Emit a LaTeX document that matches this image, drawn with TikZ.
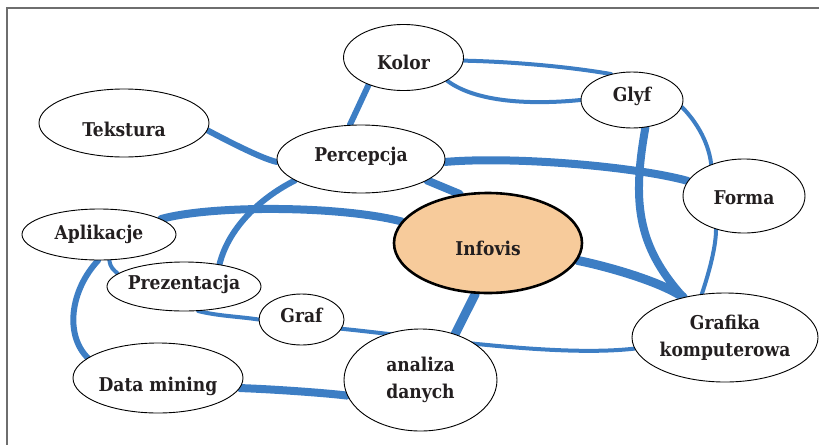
\documentclass[tikz,border=0pt]{standalone}
\usepackage{fontspec}
\setmainfont{DejaVu Serif Condensed}
\usetikzlibrary{shapes.geometric,backgrounds}
\definecolor{linkblue}{RGB}{61,126,196}
\definecolor{corefill}{RGB}{247,203,155}
\definecolor{inktext}{RGB}{35,31,32}
\definecolor{framegray}{RGB}{110,110,110}
\tikzset{
  topic/.style={ellipse, draw=black, line width=0.9pt, fill=white,
    inner ysep=0pt, inner xsep=-8pt,
    text=inktext, align=center,
    font=\bfseries\fontsize{19}{27}\selectfont},
  core/.style={topic, fill=corefill, line width=2.6pt},
  % vertical placement of a one-line label inside its ellipse
  lift/.style={text height=#1, text depth=0pt},
  link/.style={draw=linkblue, line cap=round, line join=round},
  thin link/.style={link, line width=4pt},
  mid link/.style={link, line width=6pt},
  thick link/.style={link, line width=8pt},
  heavy link/.style={link, line width=9pt},
}
\begin{document}
\begin{tikzpicture}[x=1pt, y=-1pt]
\useasboundingbox (0,0) rectangle (819,445);

% topics
\node[topic, lift=24pt, minimum width=120pt, minimum height=66pt]  (kolor)    at (403.5,57.5) {Kolor};
\node[topic, lift=2pt,  minimum width=102pt, minimum height=56pt]  (glyf)     at (632,100)    {Glyf};
\node[topic, lift=17pt, minimum width=122pt, minimum height=74pt]  (forma)    at (744,196)    {Forma};
\node[topic, lift=26pt, minimum width=170pt, minimum height=68pt]  (tekstura) at (124,123)    {Tekstura};
\node[topic, lift=4pt,  minimum width=168pt, minimum height=68pt]  (perc)     at (361,159)    {Percepcja};
\node[core,  lift=24pt, minimum width=188pt, minimum height=100pt] (infovis)  at (488,243)    {Infovis};
\node[topic, lift=9pt,  minimum width=154pt, minimum height=51pt]  (aplik)    at (99,234.5)   {Aplikacje};
\node[topic, lift=6pt,  minimum width=154pt, minimum height=49pt]  (prez)     at (184,286.5)  {Prezentacja};
\node[topic, lift=6pt,  minimum width=85pt,  minimum height=51pt]  (graf)     at (301.5,319.5){Graf};
\node[topic, lift=26pt, minimum width=170pt, minimum height=70pt]  (datam)    at (158,378)    {Data mining};
\node[topic, minimum width=153pt, minimum height=102pt] (analiza)  at (420.5,380)  {analiza\\danych};
\node[topic, minimum width=186pt, minimum height=89pt]  (grafika)  at (725,337.5)  {Grafika\\komputerowa};

\begin{scope}[on background layer]
  % frame
  \draw[framegray, line width=1.6pt] (819,8) -- (7,8) -- (7,445);

  % connections
  \draw[mid link]   (kolor.218) -- (perc.108);
  \draw[thin link]  (kolor.-3) .. controls +(50,1) and +(-40,-7) .. (glyf.129);
  \draw[thin link]  (kolor.-28) .. controls +(32,24) and +(-40,4) .. (glyf.180);
  \draw[thick link] (glyf.-64) .. controls +(-13,73) and +(-47,-52) .. (grafika.136);
  \draw[thin link]  (glyf.-8) .. controls +(12,12) and +(-3,-25) .. (forma.136);
  \draw[mid link]   (tekstura.-5) .. controls +(15,8) and +(-15,-3) .. (perc.182);
  \draw[thick link] (perc.-2) .. controls +(70,-6) and +(-50,-14) .. (forma.165);
  \draw[thick link] (perc.-18) -- (infovis.120);
  \draw[mid link]   (perc.198) .. controls +(-30,15) and +(10,-40) .. (prez.32);
  \draw[thick link] (aplik.14) .. controls +(50,-14) and +(-62,-16) .. (infovis.166);
  \draw[thin link]  (aplik.-68) .. controls +(1,8) and +(-4,-4) .. (prez.169);
  \draw[mid link]   (aplik.-92) .. controls +(-28,30) and +(-23,-23) .. (datam.164);
  \draw[thin link]  (prez.-60) .. controls +(20,5) and +(-20,-3) .. (graf.180);
  \draw[thin link]  (graf.-13) .. controls +(80,8) and +(-80,9) .. (grafika.187);
  \draw[heavy link] (infovis.256) -- (analiza.53);
  \draw[heavy link] (infovis.-11) .. controls +(25,5) and +(-25,-17) .. (grafika.136);
  \draw[thin link]  (forma.230) .. controls +(0,20) and +(5,-15) .. (grafika.118);
  \draw[thick link] (datam.-7) .. controls +(30,1) and +(-25,-3) .. (analiza.192);
\end{scope}
\end{tikzpicture}
\end{document}
